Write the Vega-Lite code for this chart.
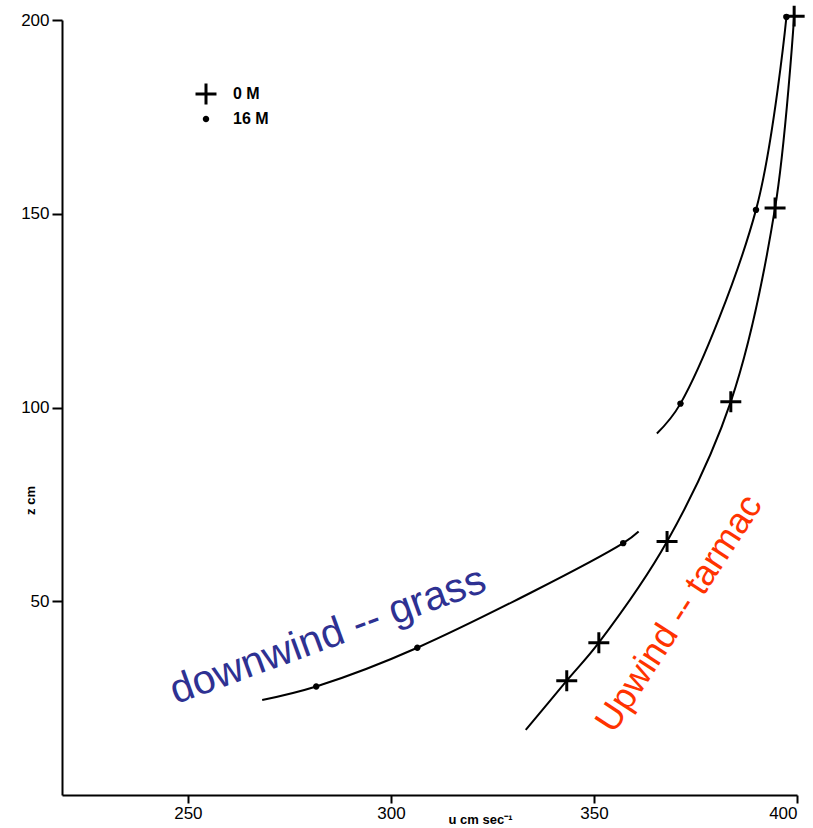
{
  "$schema": "https://vega.github.io/schema/vega-lite/v6.json",
  "width": 735,
  "height": 775,
  "autosize": {"type": "none"},
  "padding": {"left": 62, "top": 20, "right": 16, "bottom": 33},
  "background": "white",
  "config": {
    "view": {"stroke": null},
    "font": "Liberation Sans",
    "axis": {"grid": false, "domainColor": "black", "tickColor": "black", "labelColor": "black", "titleColor": "black", "domainWidth": 2, "tickWidth": 2}
  },
  "datasets": {
    "points": [
      {"u": 343.3, "z": 29.5, "series": "0 M"},
      {"u": 351.2, "z": 39.3, "series": "0 M"},
      {"u": 368.0, "z": 65.4, "series": "0 M"},
      {"u": 383.7, "z": 101.5, "series": "0 M"},
      {"u": 394.6, "z": 151.5, "series": "0 M"},
      {"u": 399.3, "z": 201.0, "series": "0 M"},
      {"u": 281.6, "z": 28.0, "series": "16 M"},
      {"u": 306.5, "z": 38.0, "series": "16 M"},
      {"u": 357.2, "z": 65.0, "series": "16 M"},
      {"u": 371.3, "z": 101.0, "series": "16 M"},
      {"u": 389.9, "z": 151.0, "series": "16 M"},
      {"u": 397.4, "z": 200.8, "series": "16 M"}
    ],
    "curves": [
      {"u": 333.2, "z": 16.8, "seg": "a"},
      {"u": 343.3, "z": 29.5, "seg": "a"},
      {"u": 351.2, "z": 39.3, "seg": "a"},
      {"u": 368.0, "z": 65.4, "seg": "a"},
      {"u": 383.7, "z": 101.5, "seg": "a"},
      {"u": 394.6, "z": 151.5, "seg": "a"},
      {"u": 399.3, "z": 201.0, "seg": "a"},
      {"u": 268.3, "z": 24.5, "seg": "b"},
      {"u": 281.6, "z": 28.0, "seg": "b"},
      {"u": 306.5, "z": 38.0, "seg": "b"},
      {"u": 357.2, "z": 65.0, "seg": "b"},
      {"u": 361.0, "z": 68.0, "seg": "b"},
      {"u": 365.5, "z": 93.3, "seg": "c"},
      {"u": 371.3, "z": 101.0, "seg": "c"},
      {"u": 389.9, "z": 151.0, "seg": "c"},
      {"u": 397.4, "z": 200.8, "seg": "c"}
    ],
    "labels": [
      {"u": 284.5, "z": 41.0, "text": "downwind -- grass", "kind": "grass"},
      {"u": 371.0, "z": 46.8, "text": "Upwind -- tarmac", "kind": "tarmac"}
    ]
  },
  "layer": [
    {
      "data": {"name": "curves"},
      "mark": {"type": "line", "color": "black", "strokeWidth": 2, "interpolate": "catmull-rom"},
      "encoding": {
        "x": {"field": "u", "type": "quantitative", "scale": {"domain": [219, 400], "nice": false, "zero": false},
          "axis": {"values": [250, 300, 350, 400], "title": "u cm sec⁻¹", "titleX": 418, "titleY": 24, "titleFontSize": 13, "titleFontWeight": "bold", "titleBaseline": "middle", "labelFontSize": 17, "tickSize": 8, "labelPadding": 2}},
        "y": {"field": "z", "type": "quantitative", "scale": {"domain": [0, 200], "nice": false},
          "axis": {"values": [50, 100, 150, 200], "title": "z cm", "titleX": -25, "titleY": 480, "titleFontSize": 13, "titleFontWeight": "bold", "labelFontSize": 17, "tickSize": 10, "labelPadding": 3}},
        "detail": {"field": "seg"},
        "order": {"field": "z", "type": "quantitative"}
      }
    },
    {
      "data": {"name": "points"},
      "mark": {"type": "point", "filled": true, "fill": "black", "stroke": "black", "strokeWidth": 3, "opacity": 1},
      "encoding": {
        "x": {"field": "u", "type": "quantitative"},
        "y": {"field": "z", "type": "quantitative"},
        "shape": {"field": "series", "type": "nominal", "scale": {"domain": ["0 M", "16 M"], "range": ["M-1,0H1M0,-1V1", "circle"]},
          "legend": {"title": null, "orient": "none", "legendX": 132, "legendY": 62, "padding": 0, "labelFontSize": 16, "labelFontWeight": "bold", "labelColor": "black", "labelOffset": 15, "rowPadding": 0, "symbolStrokeWidth": 3, "symbolFillColor": "black", "symbolStrokeColor": "black"}},
        "size": {"field": "series", "type": "nominal", "scale": {"domain": ["0 M", "16 M"], "range": [440, 12]}}
      }
    },
    {
      "data": {"name": "labels"},
      "transform": [{"filter": "datum.kind == 'grass'"}],
      "mark": {"type": "text", "angle": 340, "fontSize": 41, "color": "#2e3192", "align": "center", "baseline": "middle"},
      "encoding": {
        "x": {"field": "u", "type": "quantitative"},
        "y": {"field": "z", "type": "quantitative"},
        "text": {"field": "text"}
      }
    },
    {
      "data": {"name": "labels"},
      "transform": [{"filter": "datum.kind == 'tarmac'"}],
      "mark": {"type": "text", "angle": 303, "fontSize": 36, "color": "#ff3300", "align": "center", "baseline": "middle"},
      "encoding": {
        "x": {"field": "u", "type": "quantitative"},
        "y": {"field": "z", "type": "quantitative"},
        "text": {"field": "text"}
      }
    }
  ]
}
